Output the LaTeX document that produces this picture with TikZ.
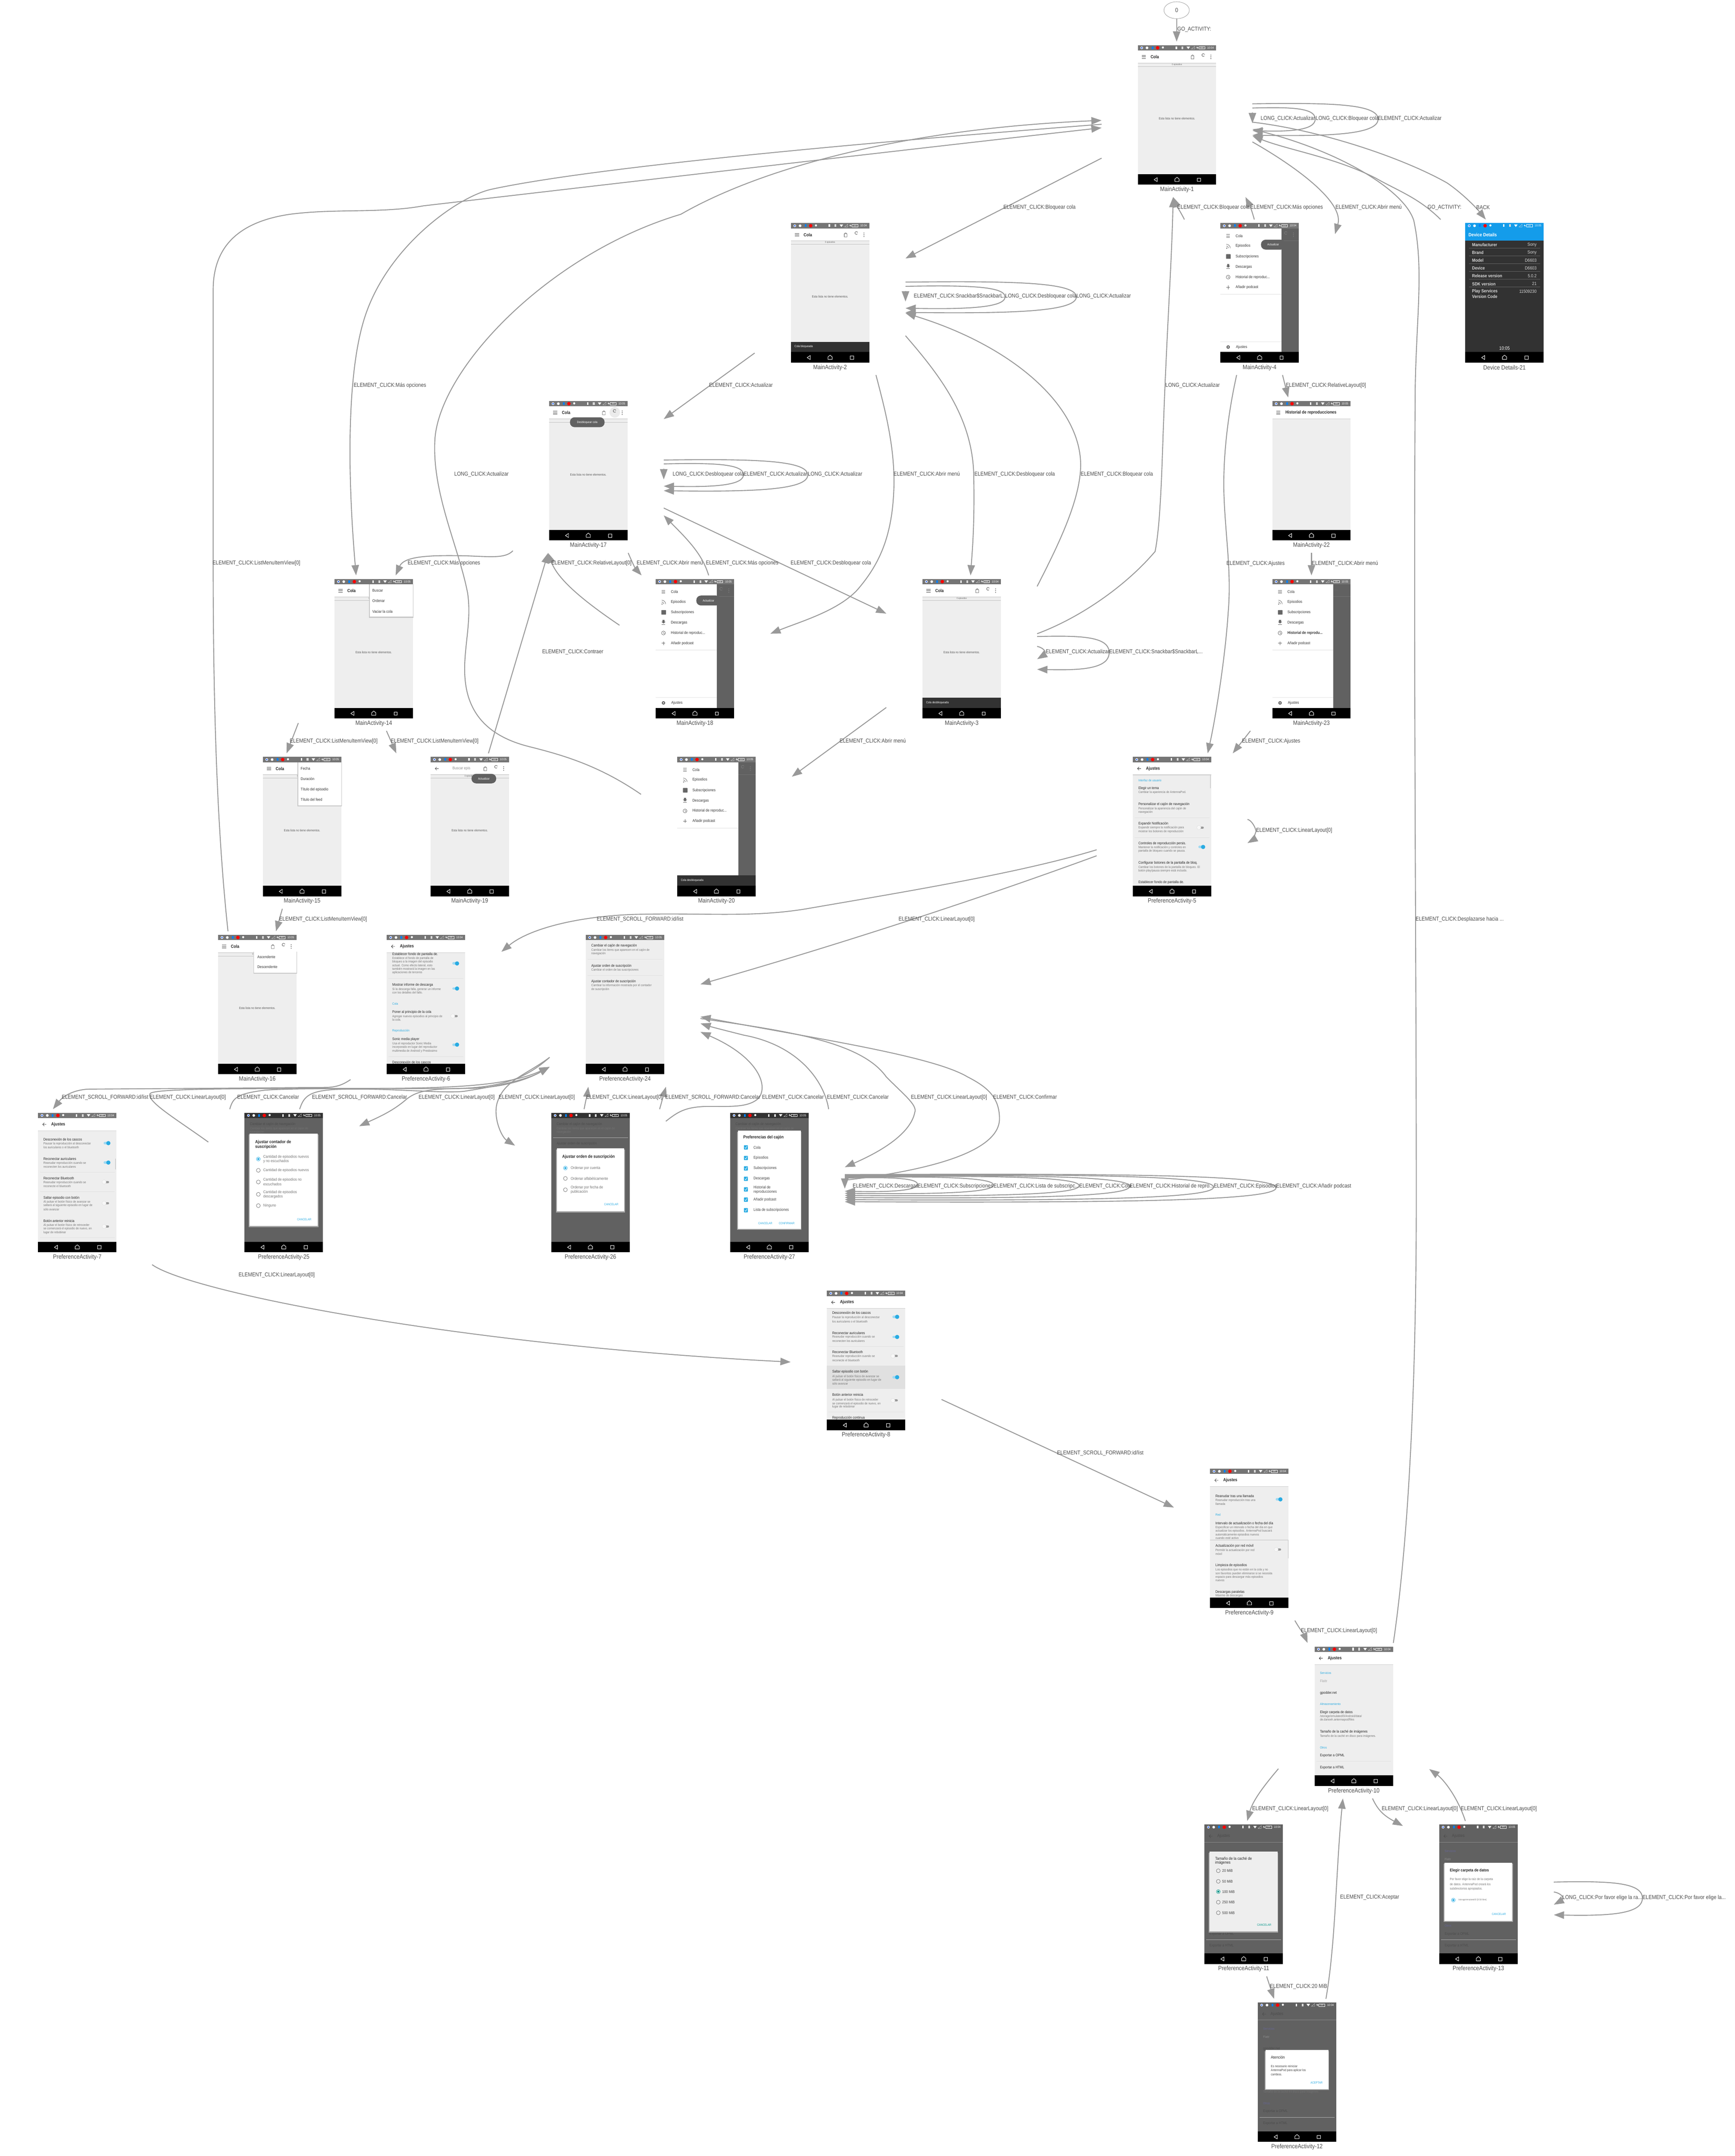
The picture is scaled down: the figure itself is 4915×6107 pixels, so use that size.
\documentclass[tikz,border=0pt]{standalone}
\usepackage{fontspec}
\setmainfont{Liberation Sans}[FakeStretch=0.875]
\usetikzlibrary{arrows.meta,shapes.geometric}

\definecolor{edgegray}{HTML}{999999}
\definecolor{labelgray}{HTML}{4D4D4D}
\definecolor{bodygray}{HTML}{EEEEEE}
\definecolor{dimgray}{HTML}{616161}
\definecolor{statgray}{HTML}{757575}
\definecolor{cyanblue}{HTML}{29ABE2}
\definecolor{tealbtn}{HTML}{009688}
\definecolor{darkbar}{HTML}{323232}
\definecolor{skyblue}{HTML}{149CEA}

\tikzset{
    screenbox/.style={rectangle, inner sep=0pt, minimum width=427pt, minimum height=440pt},
    captionlabel/.style={font=\fontsize{17.5}{20}\selectfont, text=labelgray, inner sep=0pt},
    edgelabel/.style={font=\fontsize{16}{18}\selectfont, text=labelgray, anchor=west, inner sep=0pt},
    arrowline/.style={draw=edgegray, line width=2.6pt, -{Triangle[length=29pt,width=21pt]}},
    ptitle/.style={font=\fontsize{10.3}{12}\selectfont, text=black!85, anchor=west, inner sep=0pt},
    psub/.style={font=\fontsize{9}{11}\selectfont, text=statgray, anchor=west, inner sep=0pt},
    psec/.style={font=\fontsize{9}{11}\selectfont, text=cyanblue, anchor=west, inner sep=0pt},
    dimtitle/.style={font=\fontsize{10.3}{12}\selectfont, text=black!70, anchor=west, inner sep=0pt},
    dimsub/.style={font=\fontsize{9}{11}\selectfont, text=black!55, anchor=west, inner sep=0pt},
    apptitle/.style={font=\bfseries\fontsize{12.5}{14}\selectfont, text=black!85, anchor=west, inner sep=0pt},
    drawertext/.style={font=\fontsize{11}{13}\selectfont, text=black!80, anchor=west, inner sep=0pt},
    emptytext/.style={font=\fontsize{9}{11}\selectfont, text=black!65, inner sep=0pt},
    tinytext/.style={font=\fontsize{6.5}{8}\selectfont, text=black!60, inner sep=0pt},
    whitesmall/.style={font=\fontsize{8.5}{10}\selectfont, text=white, inner sep=0pt},
    dialogtitle/.style={font=\bfseries\fontsize{12.3}{14}\selectfont, text=black!85, anchor=west, inner sep=0pt},
    optiontext/.style={font=\fontsize{11}{13}\selectfont, text=black!55, anchor=west, inner sep=0pt},
    buttontext/.style={font=\fontsize{8.4}{10}\selectfont, text=cyanblue, inner sep=0pt},
    rowname/.style={font=\bfseries\fontsize{12.8}{14}\selectfont, text=white!85!black, anchor=west, inner sep=0pt},
    rowvalue/.style={font=\fontsize{12.8}{14}\selectfont, text=white!85!black, anchor=east, inner sep=0pt},
}

% node for the screen plus its caption below
\newcommand{\screen}[4]{
    \node[screenbox] (#1) at ({#2+111},{#3+210}) {};
    \node[captionlabel] (#1c) at ({#2+111},{#3+409}) {#4};
}
\newcommand{\statusbar}[2]{
    \fill[#1] (0,0) rectangle (222,15);
    \fill[white] (11,7.5) circle (3.8);
    \fill[blue!70!cyan] (11,7.5) circle (2.2);
    \fill[white] (26,7.5) circle (3.8);
    \fill[blue!50!cyan] (39,3.5) rectangle (44,11);
    \fill[red] (56,7.5) circle (5);
    \fill[white] (71,6.5) circle (3);
    \fill[white] (107,3.5) rectangle (111,11);
    \fill[white!70!gray] (124,3.5) rectangle (129,11);
    \fill[white] (138,4) -- (148,4) -- (143,11) -- cycle;
    \draw[white!70!gray, line width=0.6pt] (152,11) -- (161,3) -- (161,11) -- cycle;
    \fill[white] (168,3.5) -- (166,8) -- (170,8) -- (168,11.5) -- (172,6.5) -- (169,6.5) -- cycle;
    \draw[white, line width=0.8pt] (173,4) rectangle (190,11);
    \node[font=\fontsize{5.5}{6}\selectfont, text=white, inner sep=0pt] at (181.5,7.5) {100};
    \node[font=\fontsize{8.5}{10}\selectfont, text=white, inner sep=0pt] at (206,7.5) {#2};
}
\newcommand{\navbar}{
    \fill[black] (0,365) rectangle (222,395);
    \draw[white, line width=1.2pt, line join=round] (55,375) -- (46,381) -- (55,386.5) -- cycle;
    \draw[white, line width=1.2pt, line join=round] (105,386) -- (105,379) -- (111,374) -- (117,379) -- (117,386) -- cycle;
    \draw[white, line width=1.2pt] (168.5,376.5) rectangle (178,386);
}
\newcommand{\backarrow}[1]{
    \draw[#1, line width=1pt] (23,33) -- (13,33) (17.5,28.5) -- (13,33) -- (17.5,37.5);
}
\newcommand{\hamburger}[1]{
    \draw[#1, line width=1pt] (11,29) -- (23,29) (11,33) -- (23,33) (11,37) -- (23,37);
}
\newcommand{\rightdots}[1]{
    \fill[#1] (207,28) circle (1.3) (207,33) circle (1.3) (207,38) circle (1.3);
    \draw[#1, line width=1pt] (188.5,30.5) arc (40:340:4);
}
% the toolbar and the empty list of the queue
\newcommand{\queuepage}{
    \fill[bodygray] (0,15) rectangle (222,365);
    \fill[white] (0,15) rectangle (222,50);
    \hamburger{black!70}
    \node[apptitle] at (36,33) {Cola};
    \draw[black!70, line width=0.8pt] (151,30) rectangle (159,39) (152.5,30) arc (180:360:2.5);
    \rightdots{black!70}
    \draw[black!25, line width=1pt] (0,50.5) -- (222,50.5);
    \draw[black!25, line width=0.6pt] (0,60) -- (222,60);
    \node[tinytext] at (111,55) {0 episodios};
    \node[emptytext] at (111,208) {Esta lista no tiene elementos.};
}
\newcommand{\whiteappbar}[1]{
    \fill[bodygray] (0,15) rectangle (222,365);
    \fill[white] (0,15) rectangle (222,50);
    \fill[black!20] (0,50) rectangle (222,51.5);
    \backarrow{black!80}
    \node[apptitle] at (37,33) {#1};
}
\newcommand{\snackbar}[1]{
    \fill[darkbar] (0,336) rectangle (222,365);
    \node[whitesmall, anchor=west] at (10,350) {#1};
}
\newcommand{\toast}[5]{
    \fill[dimgray, rounded corners=13pt] (#1,#3) rectangle (#2,#4);
    \node[whitesmall] at ({(#1+#2)/2},{(#3+#4)/2}) {#5};
}
\newcommand{\popup}[3]{
    \fill[black!22] (#1-2,#2) rectangle (223,#3+3);
    \fill[white] (#1,#2) rectangle (222,#3);
}
\newcommand{\togon}[1]{
    \draw[cyanblue!45, line width=7pt, line cap=round] (189,#1) -- (198,#1);
    \fill[cyanblue] (199,#1) circle (6);
}
\newcommand{\togoff}[1]{
    \draw[black!40, line width=6pt, line cap=round] (190,#1) -- (198,#1);
    \fill[white!97!black] (187,#1) circle (6);
    \draw[black!15, line width=0.5pt] (187,#1) circle (6);
}
% the navigation drawer, its items at y 36 to 182
\newcommand{\drawerpage}[1]{
    \fill[dimgray] (0,15) rectangle (222,365);
    \draw[black!55, line width=1pt] (173,50) -- (222,50);
    \fill[white] (0,15) rectangle (173,365);
    \draw[black!60, line width=0.8pt] (17,32) -- (27,32) (17,36) -- (27,36) (17,40) -- (27,40);
    \fill[black!60] (18,71) circle (1.7);
    \draw[black!60, line width=1pt] (17,65) arc (-90:0:6) (17,60) arc (-90:0:11);
    \fill[black!60, rounded corners=1pt] (16,88) rectangle (29,101);
    \fill[black!60] (19,116) -- (25,116) -- (25,121) -- (28,121) -- (22,126) -- (16,121) -- (19,121) -- cycle;
    \fill[black!60] (17,128) rectangle (27,129.5);
    \draw[black!60, line width=1pt] (22,153) circle (5.5);
    \draw[black!60, line width=1pt] (22,150) -- (22,153) -- (25,155);
    \draw[black!60, line width=1pt] (17,182) -- (27,182) (22,177) -- (22,187);
    \node[drawertext] at (43,36) {Cola};
    \node[drawertext] at (43,65) {Episodios};
    \node[drawertext] at (43,94.5) {Subscripciones};
    \node[drawertext] at (43,124) {Descargas};
    \node[drawertext] at (43,153) {#1};
    \node[drawertext] at (43,182) {Añadir podcast};
    \draw[black!12, line width=1pt] (0,201) -- (173,201);
}
\newcommand{\drawerfoot}{
    \draw[black!10, line width=1pt] (0,336) -- (173,336);
    \fill[black!60] (22,351) circle (5);
    \fill[white] (22,351) circle (2);
    \node[drawertext] at (44,351) {Ajustes};
}
\newcommand{\radiobtn}[3]{
    \draw[#3, line width=0.9pt] (#1,#2) circle (5.5);
}
\newcommand{\radioon}[3]{
    \draw[#3, line width=0.9pt] (#1,#2) circle (5.5);
    \fill[#3] (#1,#2) circle (3);
}
\newcommand{\checkbox}[1]{
    \fill[cyanblue, rounded corners=1pt] (39,#1-6) rectangle (50,#1+6);
    \draw[white, line width=1pt] (41.5,#1) -- (44,#1+3) -- (48,#1-4);
}
\newcommand{\selfedge}[4]{
    \pgfmathsetmacro{\ymid}{(#2+#4)/2}
    \draw[arrowline] (#1.east |- 0,#2) .. controls +({.6*#3},-3) and +(0,{#2-\ymid}) .. ++(#3,{\ymid-#2-1}) .. controls +(0,{#4-\ymid}) and +({.6*#3},3) .. ++({-#3},{#4-\ymid+1});
}
\newcommand{\smallloop}[4]{
    \pgfmathsetmacro{\ymid}{(#2+#4)/2}
    \draw[arrowline] (#1.east |- 0,#2) .. controls +({.5*#3},2) and +(0,-8) .. ++(#3,{\ymid-#2}) .. controls +(0,5) and +({.5*#3},-7) .. ++({-#3},{#4-\ymid});
}
\newcommand{\ec}{ELEMENT\_CLICK:}
\newcommand{\lc}{LONG\_CLICK:}
\newcommand{\es}{ELEMENT\_SCROLL\_FORWARD:}

\begin{document}
\begin{tikzpicture}[x=1pt,y=-1pt]
    \useasboundingbox (0,0) rectangle (4915,6107);
    \fill[white] (0,0) rectangle (4915,6107);

    \node[ellipse, draw=edgegray, line width=1pt, minimum width=72pt, minimum height=48pt, inner sep=0pt, font=\fontsize{17}{20}\selectfont, text=labelgray] (s0) at (3334,29) {0};

    % screens
    \screen{m1}{3224}{128}{MainActivity-1}
    \begin{scope}[shift={(3224,128)}]
        \queuepage \statusbar{statgray}{10:04} \navbar
    \end{scope}

    \screen{m2}{2241}{632}{MainActivity-2}
    \begin{scope}[shift={(2241,632)}]
        \queuepage \snackbar{Cola bloqueada} \statusbar{statgray}{10:04} \navbar
    \end{scope}

    \screen{m4}{3458}{632}{MainActivity-4}
    \begin{scope}[shift={(3458,632)}]
        \drawerpage{Historial de reproduc...}
        \drawerfoot
        \rightdots{black!50}
        \toast{115}{184}{47}{75}{Actualizar}
        \statusbar{statgray}{10:04} \navbar
    \end{scope}

    \screen{dd21}{4152}{632}{Device Details-21}
    \begin{scope}[shift={(4152,632)}]
        \fill[darkbar] (0,15) rectangle (222,365);
        \fill[skyblue] (0,15) rectangle (222,50);
        \node[font=\bfseries\fontsize{13.5}{15}\selectfont, text=white, anchor=west, inner sep=0pt] at (9,33) {Device Details};
        \draw[black!60, line width=0.6pt] (10,71) -- (212,71) (10,93) -- (212,93) (10,115) -- (212,115) (10,137) -- (212,137) (10,159) -- (212,159) (10,181) -- (212,181);
        \node[rowname] at (19,62) {Manufacturer};
        \node[rowvalue] at (202,62) {Sony};
        \node[rowname] at (19,84) {Brand};
        \node[rowvalue] at (202,84) {Sony};
        \node[rowname] at (19,106) {Model};
        \node[rowvalue] at (202,106) {D6603};
        \node[rowname] at (19,128) {Device};
        \node[rowvalue] at (202,128) {D6603};
        \node[rowname] at (19,150) {Release version};
        \node[rowvalue] at (202,150) {5.0.2};
        \node[rowname] at (19,172) {SDK version};
        \node[rowvalue] at (202,172) {21};
        \node[rowname] at (19,194) {Play Services};
        \node[rowvalue] at (202,194) {11509230};
        \node[rowname] at (19,208) {Version Code};
        \node[font=\fontsize{13.5}{15}\selectfont, text=white, inner sep=0pt] at (111,355) {10:05};
        \statusbar{skyblue}{10:05} \navbar
    \end{scope}

    \screen{m17}{1556}{1136}{MainActivity-17}
    \begin{scope}[shift={(1556,1136)}]
        \queuepage
        \fill[black!8] (186,32) circle (15);
        \draw[black!70, line width=1pt] (188.5,30.5) arc (40:340:4);
        \toast{59}{157}{46}{74}{Desbloquear cola}
        \statusbar{statgray}{10:05} \navbar
    \end{scope}

    \screen{m22}{3605}{1136}{MainActivity-22}
    \begin{scope}[shift={(3605,1136)}]
        \fill[bodygray] (0,15) rectangle (222,365);
        \fill[white] (0,15) rectangle (222,50);
        \fill[black!20] (0,50) rectangle (222,51.5);
        \hamburger{black!70}
        \node[apptitle] at (37,33) {Historial de reproducciones};
        \statusbar{statgray}{10:05} \navbar
    \end{scope}

    \screen{m14}{948}{1640}{MainActivity-14}
    \begin{scope}[shift={(948,1640)}]
        \queuepage
        \popup{100}{15}{107}
        \node[drawertext] at (107,33) {Buscar};
        \node[drawertext] at (107,62) {Ordenar};
        \node[drawertext] at (107,92) {Vaciar la cola};
        \statusbar{statgray}{10:05} \navbar
    \end{scope}

    \screen{m18}{1858}{1640}{MainActivity-18}
    \begin{scope}[shift={(1858,1640)}]
        \drawerpage{Historial de reproduc...}
        \drawerfoot
        \rightdots{black!50}
        \toast{115}{184}{47}{75}{Actualizar}
        \statusbar{statgray}{10:05} \navbar
    \end{scope}

    \screen{m3}{2614}{1640}{MainActivity-3}
    \begin{scope}[shift={(2614,1640)}]
        \queuepage \snackbar{Cola desbloqueada} \statusbar{statgray}{10:04} \navbar
    \end{scope}

    \screen{m23}{3605}{1640}{MainActivity-23}
    \begin{scope}[shift={(3605,1640)}]
        \drawerpage{\textbf{Historial de reprodu...}}
        \drawerfoot
        \node[font=\bfseries\fontsize{10}{12}\selectfont, text=black!60, anchor=west, inner sep=0pt] at (176,33) {es};
        \statusbar{statgray}{10:05} \navbar
    \end{scope}

    \screen{m15}{745}{2144}{MainActivity-15}
    \begin{scope}[shift={(745,2144)}]
        \queuepage
        \popup{100}{15}{137}
        \node[drawertext] at (107,33) {Fecha};
        \node[drawertext] at (107,62) {Duración};
        \node[drawertext] at (107,92) {Título del episodio};
        \node[drawertext] at (107,121) {Título del feed};
        \statusbar{statgray}{10:05} \navbar
    \end{scope}

    \screen{m19}{1220}{2144}{MainActivity-19}
    \begin{scope}[shift={(1220,2144)}]
        \queuepage
        \fill[white] (0,15) rectangle (140,49);
        \backarrow{black!70}
        \node[drawertext, text=black!45] at (62,33) {Buscar epis};
        \toast{116}{186}{48}{75}{Actualizar}
        \statusbar{statgray}{10:05} \navbar
    \end{scope}

    \screen{m20}{1919}{2144}{MainActivity-20}
    \begin{scope}[shift={(1919,2144)}]
        \drawerpage{Historial de reproduc...}
        \rightdots{black!50}
        \snackbar{Cola desbloqueada}
        \statusbar{statgray}{10:05} \navbar
    \end{scope}

    \screen{p5}{3210}{2144}{PreferenceActivity-5}
    \begin{scope}[shift={(3210,2144)}]
        \whiteappbar{Ajustes}
        \fill[black!18] (218,52) rectangle (221,89);
        \node[psec] at (15.5,66) {Interfaz de usuario};
        \node[ptitle] at (15.5,89) {Elegir un tema};
        \node[psub] at (15.5,101) {Cambiar la apariencia de AntennaPod.};
        \node[ptitle] at (15.5,134) {Personalizar el cajón de navegación};
        \node[psub] at (15.5,147) {Personalizar la apariencia del cajón de};
        \node[psub] at (15.5,157) {navegación};
        \draw[black!12, line width=0.8pt] (5,172) -- (217,172);
        \node[ptitle] at (15.5,189) {Expandir Notificación};
        \node[psub] at (15.5,201) {Expandir siempre la notificación para};
        \node[psub] at (15.5,211) {mostrar los botones de reproducción};
        \togoff{200}
        \draw[black!12, line width=0.8pt] (5,228) -- (217,228);
        \node[ptitle] at (15.5,245) {Controles de reproducción persis.};
        \node[psub] at (15.5,257) {Mantener la notificación y controles en};
        \node[psub] at (15.5,267) {pantalla de bloqueo cuando se pausa.};
        \togon{255}
        \node[ptitle] at (15.5,300) {Configurar botones de la pantalla de bloq.};
        \node[psub] at (15.5,313) {Cambiar los botones de la pantalla de bloqueo. El};
        \node[psub] at (15.5,323) {botón play/pausa siempre está incluido.};
        \node[ptitle] at (15.5,355) {Establecer fondo de pantalla de.};
        \statusbar{statgray}{10:04} \navbar
    \end{scope}

    \screen{m16}{618}{2648}{MainActivity-16}
    \begin{scope}[shift={(618,2648)}]
        \queuepage
        \popup{102}{47}{107}
        \node[drawertext] at (111,62) {Ascendente};
        \node[drawertext] at (111,91) {Descendente};
        \statusbar{statgray}{10:05} \navbar
    \end{scope}

    \screen{p6}{1096}{2648}{PreferenceActivity-6}
    \begin{scope}[shift={(1096,2648)}]
        \whiteappbar{Ajustes}
        \node[ptitle] at (15.5,55) {Establecer fondo de pantalla de.};
        \node[psub] at (15.5,67) {Establece el fondo de pantalla de};
        \node[psub] at (15.5,77) {bloqueo a la imagen del episodio};
        \node[psub] at (15.5,87) {actual. Como efecto lateral, esto}; 
        \node[psub] at (15.5,97) {también mostrará la imagen en las};
        \node[psub] at (15.5,107) {aplicaciones de terceros};
        \togon{81}
        \draw[black!12, line width=0.8pt] (5,124) -- (217,124);
        \node[ptitle] at (15.5,142) {Mostrar informe de descarga};
        \node[psub] at (15.5,154) {Si la descarga falla, generar un informe};
        \node[psub] at (15.5,164) {con los detalles del fallo.};
        \togon{152}
        \node[psec] at (15.5,195) {Cola};
        \node[ptitle] at (15.5,219) {Poner al principio de la cola};
        \node[psub] at (15.5,231) {Agregar nuevos episodios al principio de};
        \node[psub] at (15.5,241) {la cola.};
        \togoff{230}
        \node[psec] at (15.5,272) {Reproducción};
        \node[ptitle] at (15.5,296) {Sonic media player};
        \node[psub] at (15.5,308) {Usa el reproductor Sonic Media};
        \node[psub] at (15.5,318) {incorporado en lugar del reproductor};
        \node[psub] at (15.5,329) {multimedia de Android y Prestissimo};
        \togon{311}
        \draw[black!12, line width=0.8pt] (5,345) -- (217,345);
        \node[ptitle] at (15.5,361) {Desconexión de los cascos};
        \statusbar{statgray}{10:04} \navbar
    \end{scope}

    \screen{p24}{1660}{2648}{PreferenceActivity-24}
    \begin{scope}[shift={(1660,2648)}]
        \fill[bodygray] (0,15) rectangle (222,365);
        \node[ptitle] at (15.5,31) {Cambiar el cajón de navegación};
        \node[psub] at (15.5,43) {Cambiar los ítems que aparecen en el cajón de};
        \node[psub] at (15.5,53) {navegación};
        \draw[black!12, line width=0.8pt] (5,69) -- (217,69);
        \node[ptitle] at (15.5,88) {Ajustar orden de suscripción};
        \node[psub] at (15.5,100) {Cambiar el orden de las suscripciones};
        \draw[black!12, line width=0.8pt] (5,115) -- (217,115);
        \node[ptitle] at (15.5,132) {Ajustar contador de suscripción};
        \node[psub] at (15.5,144) {Cambiar la información mostrada por el contador};
        \node[psub] at (15.5,154) {de suscripción};
        \statusbar{statgray}{10:05} \navbar
    \end{scope}

    \screen{p7}{108}{3152}{PreferenceActivity-7}
    \begin{scope}[shift={(108,3152)}]
        \whiteappbar{Ajustes}
        \fill[black!18] (217.5,130) rectangle (220,161);
        \node[ptitle] at (15,75) {Desconexión de los cascos};
        \node[psub] at (15,87.5) {Pausar la reproducción al desconectar};
        \node[psub] at (15,98) {los auriculares o el bluetooth};
        \togon{86}
        \node[ptitle] at (15,130) {Reconectar auriculares};
        \node[psub] at (15,143) {Reanudar reproducción cuando se};
        \node[psub] at (15,153) {reconecten los auriculares};
        \togon{141}
        \draw[black!12, line width=0.8pt] (5,168) -- (217,168);
        \node[ptitle] at (15,186) {Reconectar Bluetooth};
        \node[psub] at (15,198) {Reanudar reproducción cuando se};
        \node[psub] at (15,208) {reconecte el bluetooth};
        \togoff{196}
        \draw[black!12, line width=0.8pt] (5,223) -- (217,223);
        \node[ptitle] at (15,241) {Saltar episodio con botón};
        \node[psub] at (15,253) {Al pulsar el botón físico de avanzar se};
        \node[psub] at (15,263) {saltará al siguiente episodio en lugar de};
        \node[psub] at (15,274) {sólo avanzar};
        \togoff{256}
        \node[ptitle] at (15,306) {Botón anterior reinicia};
        \node[psub] at (15,319) {Al pulsar el botón físico de retroceder};
        \node[psub] at (15,329) {se comenzará el episodio de nuevo, en};
        \node[psub] at (15,339) {lugar de rebobinar};
        \togoff{322}
        \draw[black!12, line width=0.8pt] (5,354) -- (217,354);
        \statusbar{statgray}{10:04} \navbar
    \end{scope}

    \screen{p25}{693}{3152}{PreferenceActivity-25}
    \begin{scope}[shift={(693,3152)}]
        \fill[dimgray] (0,15) rectangle (222,365);
        \node[dimtitle] at (15,32) {Cambiar el cajón de navegación};
        \node[dimsub] at (15,45) {Cambiar los ítems que aparecen en el cajón de};
        \node[dimsub] at (15,55) {navegación};
        \fill[black!35] (12,62) rectangle (209,324);
        \fill[white] (14,59) rectangle (207,321);
        \node[dialogtitle] at (30,83) {Ajustar contador de};
        \node[dialogtitle] at (30,97) {suscripción};
        \radioon{39}{131}{cyanblue}
        \node[optiontext] at (53,125.5) {Cantidad de episodios nuevos};
        \node[optiontext] at (53,137) {y no escuchados};
        \radiobtn{39}{163}{black!60}
        \node[optiontext] at (53,163) {Cantidad de episodios nuevos};
        \radiobtn{39}{196}{black!60}
        \node[optiontext] at (53,190) {Cantidad de episodios no};
        \node[optiontext] at (53,202) {escuchados};
        \radiobtn{39}{231}{black!60}
        \node[optiontext] at (53,225) {Cantidad de episodios};
        \node[optiontext] at (53,237) {descargados};
        \radiobtn{39}{263}{black!60}
        \node[optiontext] at (53,263) {Ninguno};
        \node[buttontext] at (169,302) {CANCELAR};
        \statusbar{darkbar}{10:05} \navbar
    \end{scope}

    \screen{p26}{1562}{3152}{PreferenceActivity-26}
    \begin{scope}[shift={(1562,3152)}]
        \fill[dimgray] (0,15) rectangle (222,365);
        \node[dimtitle] at (15,32) {Cambiar el cajón de navegación};
        \node[dimsub] at (15,45) {Cambiar los ítems que aparecen en el cajón de};
        \node[dimsub] at (15,55) {navegación};
        \draw[black!30, line width=0.8pt] (5,70) -- (217,70);
        \node[dimtitle] at (15,88) {Ajustar orden de suscripción};
        \fill[black!35] (14,104) rectangle (209,282);
        \fill[white] (16,101) rectangle (207,279);
        \node[dialogtitle] at (31,125) {Ajustar orden de suscripción};
        \radioon{40}{156.5}{cyanblue}
        \node[optiontext] at (55,156.5) {Ordenar por cuenta};
        \radiobtn{40}{186}{black!60}
        \node[optiontext] at (55,186) {Ordenar alfabéticamente};
        \radiobtn{40}{218}{black!60}
        \node[optiontext] at (55,212) {Ordenar por fecha de};
        \node[optiontext] at (55,224) {publicación};
        \node[buttontext] at (170,260) {CANCELAR};
        \statusbar{darkbar}{10:05} \navbar
    \end{scope}

    \screen{p27}{2069}{3152}{PreferenceActivity-27}
    \begin{scope}[shift={(2069,3152)}]
        \fill[dimgray] (0,15) rectangle (222,365);
        \node[dimtitle] at (15,32) {Cambiar el cajón de navegación};
        \node[dimsub] at (15,45) {Cambiar los ítems que aparecen en el cajón de};
        \fill[black!35] (20,54) rectangle (202,332);
        \fill[white] (22,51) rectangle (200,329.5);
        \node[dialogtitle] at (37,70) {Preferencias del cajón};
        \checkbox{98}
        \node[optiontext, text=black!75] at (66,98) {Cola};
        \checkbox{128}
        \node[optiontext, text=black!75] at (66,128) {Episodios};
        \checkbox{157.5}
        \node[optiontext, text=black!75] at (66,157.5) {Subscripciones};
        \checkbox{187}
        \node[optiontext, text=black!75] at (66,187) {Descargas};
        \checkbox{217}
        \node[optiontext, text=black!75] at (66,211) {Historial de};
        \node[optiontext, text=black!75] at (66,224) {reproducciones};
        \checkbox{246}
        \node[optiontext, text=black!75] at (66,246) {Añadir podcast};
        \checkbox{276}
        \node[optiontext, text=black!75] at (66,276) {Lista de subscripciones};
        \node[buttontext] at (99.5,313) {CANCELAR};
        \node[buttontext] at (160,313) {CONFIRMAR};
        \statusbar{darkbar}{10:05} \navbar
    \end{scope}

    \screen{p8}{2343}{3656}{PreferenceActivity-8}
    \begin{scope}[shift={(2343,3656)}]
        \whiteappbar{Ajustes}
        \node[ptitle] at (15,63) {Desconexión de los cascos};
        \node[psub] at (15,76) {Pausar la reproducción al desconectar};
        \node[psub] at (15,87) {los auriculares o el bluetooth};
        \togon{74}
        \node[ptitle] at (15,120) {Reconectar auriculares};
        \node[psub] at (15,131) {Reanudar reproducción cuando se};
        \node[psub] at (15,142) {reconecten los auriculares};
        \togon{131}
        \draw[black!12, line width=0.8pt] (5,157) -- (217,157);
        \node[ptitle] at (15,174) {Reconectar Bluetooth};
        \node[psub] at (15,186) {Reanudar reproducción cuando se};
        \node[psub] at (15,197) {reconecte el bluetooth};
        \togoff{185}
        \fill[black!12] (0,212) rectangle (222,278);
        \node[ptitle] at (15,229) {Saltar episodio con botón};
        \node[psub] at (15,243) {Al pulsar el botón físico de avanzar se};
        \node[psub] at (15,253) {saltará al siguiente episodio en lugar de};
        \node[psub] at (15,263) {sólo avanzar};
        \togon{245}
        \node[ptitle] at (15,295) {Botón anterior reinicia};
        \node[psub] at (15,309) {Al pulsar el botón físico de retroceder};
        \node[psub] at (15,320) {se comenzará el episodio de nuevo, en};
        \node[psub] at (15,329) {lugar de rebobinar};
        \togoff{311}
        \draw[black!12, line width=0.8pt] (5,343) -- (217,343);
        \node[ptitle] at (15,360) {Reproducción continua};
        \statusbar{statgray}{10:04} \navbar
    \end{scope}

    \screen{p9}{3429}{4160}{PreferenceActivity-9}
    \begin{scope}[shift={(3429,4160)}]
        \whiteappbar{Ajustes}
        \node[ptitle] at (15,77) {Reanudar tras una llamada};
        \node[psub] at (15,90) {Reanudar reproducción tras una};
        \node[psub] at (15,100) {llamada};
        \togon{87}
        \node[psec] at (15,130) {Red};
        \node[ptitle] at (15,154) {Intervalo de actualización o fecha del día};
        \node[psub] at (15,167) {Especificar un intervalo o fecha del día en que};
        \node[psub] at (15,177) {actualizar los episodios. AntennaPod buscará};
        \node[psub] at (15,187) {automáticamente episodios nuevos};
        \node[psub] at (15,197) {cuando esté activo};
        \draw[black!25, line width=0.8pt] (0,202) -- (221,202) -- (221,254);
        \node[ptitle] at (15,219) {Actualización por red móvil};
        \node[psub] at (15,232) {Permitir la actualización por red};
        \node[psub] at (15,242) {móvil};
        \togoff{229}
        \node[ptitle] at (15,274) {Limpieza de episodios};
        \node[psub] at (15,287) {Los episodios que no están en la cola y no};
        \node[psub] at (15,297) {son favoritos pueden eliminarse si se necesita};
        \node[psub] at (15,307) {espacio para descargar más episodios};
        \node[psub] at (15,317) {nuevos};
        \node[ptitle] at (15,350) {Descargas paralelas};
        \node[psub] at (15,360) {Máximo de descargas};
        \statusbar{statgray}{10:04} \navbar
    \end{scope}

    \screen{p10}{3725}{4664}{PreferenceActivity-10}
    \begin{scope}[shift={(3725,4664)}]
        \whiteappbar{Ajustes}
        \node[psec] at (15,75) {Servicios};
        \node[ptitle, text=black!35] at (15,98) {Flattr};
        \node[ptitle] at (15,131) {gpodder.net};
        \node[psec] at (15,163) {Almacenamiento};
        \node[ptitle] at (15,186) {Elegir carpeta de datos};
        \node[psub] at (15,198) {/storage/emulated/0/Android/data/};
        \node[psub] at (15,208) {de.danoeh.antennapod/files};
        \node[ptitle] at (15,242) {Tamaño de la caché de imágenes};
        \node[psub] at (15,254) {Tamaño de la caché en disco para imágenes.};
        \node[psec] at (15,286) {Otros};
        \node[ptitle] at (15,309) {Exportar a OPML};
        \draw[black!12, line width=0.8pt] (5,325) -- (217,325);
        \node[ptitle] at (15,343) {Exportar a HTML};
        \statusbar{statgray}{10:04} \navbar
    \end{scope}

    \screen{p11}{3413}{5168}{PreferenceActivity-11}
    \begin{scope}[shift={(3413,5168)}]
        \fill[dimgray] (0,15) rectangle (222,365);
        \draw[black!45, line width=1pt] (0,50) -- (222,50);
        \backarrow{black!70}
        \node[apptitle, font=\fontsize{12.5}{14}\selectfont, text=black!70] at (36,33) {Ajustes};
        \node[dimtitle] at (14,310) {Exportar a OPML};
        \draw[black!30, line width=0.8pt] (5,326) -- (217,326);
        \node[dimtitle] at (14,343) {Exportar a HTML};
        \fill[black!35] (12,80) rectangle (209,306);
        \fill[bodygray] (14,77) rectangle (207,303);
        \node[ptitle, font=\fontsize{11.5}{13}\selectfont] at (30,96.5) {Tamaño de la caché de};
        \node[ptitle, font=\fontsize{11.5}{13}\selectfont] at (30,109) {imágenes};
        \radiobtn{39}{131}{black!60}
        \node[optiontext, text=black!75] at (50,131) {20 MiB};
        \radiobtn{39}{161}{black!60}
        \node[optiontext, text=black!75] at (50,161) {50 MiB};
        \radioon{39}{190}{tealbtn}
        \node[optiontext, text=black!75] at (50,190) {100 MiB};
        \radiobtn{39}{220}{black!60}
        \node[optiontext, text=black!75] at (50,220) {250 MiB};
        \radiobtn{39}{250}{black!60}
        \node[optiontext, text=black!75] at (50,250) {500 MiB};
        \node[buttontext, text=tealbtn] at (169,285) {CANCELAR};
        \statusbar{dimgray}{10:04} \navbar
    \end{scope}

    \screen{p13}{4078}{5168}{PreferenceActivity-13}
    \begin{scope}[shift={(4078,5168)}]
        \fill[dimgray] (0,15) rectangle (222,365);
        \draw[black!45, line width=1pt] (0,50) -- (222,50);
        \backarrow{black!70}
        \node[apptitle, font=\fontsize{12.5}{14}\selectfont, text=black!70] at (36,33) {Ajustes};
        \node[psec, text=blue!30!black!60] at (15,75) {Servicios};
        \node[dimsub, text=black!45] at (15,98) {Flattr};
        \node[psec, text=blue!30!black!60] at (15,287) {Otros};
        \node[dimtitle] at (15,310) {Exportar a OPML};
        \draw[black!30, line width=0.8pt] (5,326) -- (217,326);
        \node[dimtitle] at (15,343) {Exportar a HTML};
        \fill[black!35] (13,111) rectangle (209,276);
        \fill[white] (15,108) rectangle (207,273);
        \node[ptitle, font=\bfseries\fontsize{11.5}{13}\selectfont] at (30,131) {Elegir carpeta de datos};
        \node[psub] at (30,155) {Por favor elige la raíz de la carpeta};
        \node[psub] at (30,169) {de datos. AntennaPod creará los};
        \node[psub] at (30,183) {subdirectorios apropiados.};
        \radioon{40}{214}{cyanblue}
        \node[psub, font=\fontsize{6.5}{8}\selectfont] at (54,214) {/storage/emulated/0/ [9.58 libre]};
        \node[buttontext] at (169,254) {CANCELAR};
        \statusbar{dimgray}{10:05} \navbar
    \end{scope}

    \screen{p12}{3564}{5672}{PreferenceActivity-12}
    \begin{scope}[shift={(3564,5672)}]
        \fill[dimgray] (0,15) rectangle (222,365);
        \draw[black!45, line width=1pt] (0,50) -- (222,50);
        \backarrow{black!70}
        \node[apptitle, font=\fontsize{12.5}{14}\selectfont, text=black!70] at (36,33) {Ajustes};
        \node[psec, text=blue!30!black!60] at (15,75) {Servicios};
        \node[dimsub, text=black!45] at (15,98) {Flattr};
        \node[dimtitle] at (15,131) {gpodder.net};
        \node[dimsub] at (15,254) {Tamaño de la caché en disco para imágenes.};
        \node[psec, text=blue!30!black!60] at (15,286) {Otros};
        \node[dimtitle] at (15,309) {Exportar a OPML};
        \draw[black!30, line width=0.8pt] (5,325) -- (217,325);
        \node[dimtitle] at (15,343) {Exportar a HTML};
        \fill[black!35] (20,138) rectangle (202,248);
        \fill[white] (22,135) rectangle (200,245);
        \node[ptitle, font=\fontsize{11.5}{13}\selectfont] at (37,155) {Atención};
        \node[psub, text=black!75] at (37,181) {Es necesario reiniciar};
        \node[psub, text=black!75] at (37,193) {AntennaPod para aplicar los};
        \node[psub, text=black!75] at (37,204) {cambios.};
        \node[buttontext] at (166.5,228) {ACEPTAR};
        \statusbar{dimgray}{10:04} \navbar
    \end{scope}

    % connectors, top of the picture
    \draw[arrowline] (s0) -- (m1.north -| s0);
    \selfedge{m1}{306}{178}{370}
    \selfedge{m1}{294}{356}{383}
    \draw[arrowline] (m1.east |- 0,319) -- (m1.east |- 0,349);
    \draw[arrowline] (m1.west |- 0,448) -- (m2.east |- 0,732);
    \draw[arrowline] (m1.east |- 0,402) .. controls (3660,465) and (3810,570) .. (m4.east |- 0,663);
    \draw[arrowline] (m1.east |- 0,346) .. controls (3750,370) and (3980,450) .. (4100,518) .. controls (4140,545) and (4180,585) .. (dd21.north -| 4210,0);
    \draw[arrowline] (dd21.north -| 4082,0) .. controls (4020,560) and (3960,540) .. (3897,504) .. controls (3780,445) and (3650,425) .. (m1.east |- 0,385);
    \draw[arrowline] (p10.north -| 3948,0) .. controls (4000,4300) and (4013,3800) .. (4013,3400) .. controls (4013,2700) and (4005,1800) .. (4010,1100) .. controls (4013,900) and (4035,760) .. (4006,625) .. controls (3980,540) and (3800,430) .. (m1.east |- 0,366);
    \draw[arrowline] (m4.north -| 3356,0) .. controls (3345,600) and (3335,585) .. (m1.south -| 3324,0);
    \draw[arrowline] (m4.north -| 3554,0) .. controls (3547,595) and (3540,580) .. (m1.south -| 3529,0);
    \draw[arrowline] (m3.east |- 0,1795) .. controls (3060,1750) and (3190,1660) .. (3273,1562) .. controls (3285,1500) and (3290,1400) .. (3295,1250) .. controls (3305,950) and (3320,750) .. (m1.south -| 3324,0);
    \draw[arrowline] (m1.west |- 0,352) .. controls (2500,400) and (1700,470) .. (1393,536) .. controls (1300,556) and (1110,690) .. (1040,880) .. controls (980,1040) and (985,1350) .. (m14.north -| 1009,0);
    \draw[arrowline] (m20.west |- 0,2250) .. controls (1700,2170) and (1600,2140) .. (1500,2115) .. controls (1400,2090) and (1345,2040) .. (1325,1966) .. controls (1300,1870) and (1340,1780) .. (1325,1680) .. controls (1300,1550) and (1225,1400) .. (1232,1250) .. controls (1240,1050) and (1550,720) .. (1929,607) .. controls (2150,480) and (2550,365) .. (m1.west |- 0,341);
    \draw[arrowline] (m16.north -| 646,0) .. controls (615,2350) and (604,2000) .. (604,1600) .. controls (604,1200) and (604,1000) .. (604,821) .. controls (604,680) and (700,625) .. (821,607) .. controls (950,590) and (1080,605) .. (1200,583) .. controls (1700,525) and (2600,420) .. (m1.west |- 0,362);

    % connectors round the queue screens
    \selfedge{m2}{811}{282}{873}
    \selfedge{m2}{799}{484}{885}
    \draw[arrowline] (m2.east |- 0,824) -- (m2.east |- 0,854);
    \draw[arrowline] (m2.east |- 0,951) .. controls (2660,1060) and (2755,1180) .. (2759,1344) .. controls (2762,1480) and (2755,1560) .. (m3.north -| 2750,0);
    \draw[arrowline] (m2.south -| 2482,0) .. controls (2505,1150) and (2535,1260) .. (2533,1374) .. controls (2530,1520) and (2490,1600) .. (2430,1670) .. controls (2375,1730) and (2270,1760) .. (m18.east |- 0,1795);
    \draw[arrowline] (m3.east |- 0,1661) .. controls (2990,1560) and (3062,1420) .. (3062,1317) .. controls (3062,1150) and (2870,980) .. (m2.east |- 0,887);
    \draw[arrowline] (m2.west |- 0,1000) -- (m17.east |- 0,1187);

    \selfedge{m17}{1314}{226}{1377}
    \selfedge{m17}{1303}{408}{1390}
    \draw[arrowline] (m17.east |- 0,1328) -- (m17.east |- 0,1358);
    \draw[arrowline] (m17.east |- 0,1439) -- (m3.west |- 0,1738);
    \draw[arrowline] (m18.north -| 2008,0) .. controls (1990,1570) and (1950,1530) .. (m17.east |- 0,1460);
    \draw[arrowline] (m18.west |- 0,1771) .. controls (1650,1700) and (1580,1640) .. (m17.south -| 1553,0);
    \draw[arrowline] (m17.south -| 1780,0) .. controls (1790,1590) and (1800,1610) .. (m18.north -| 1818,0);
    \draw[arrowline] (m19.north -| 1384,0) -- (m17.south -| 1553,0);
    \draw[arrowline] (m17.west |- 0,1560) .. controls (1430,1585) and (1380,1575) .. (1300,1574) .. controls (1220,1573) and (1145,1575) .. (m14.north -| 1121,0);
    \draw[arrowline] (m14.west |- 0,2048) -- (m15.north -| 812,0);
    \draw[arrowline] (m14.south -| 1095,0) -- (m19.north -| 1123,0);
    \draw[arrowline] (m15.south -| 800,0) -- (m16.north -| 782,0);
    \draw[arrowline] (m3.west |- 0,2004) -- (m20.east |- 0,2200);
    \selfedge{m3}{1803}{204}{1896}
    \smallloop{m3}{1831}{23}{1867}

    % connectors on the right
    \draw[arrowline] (m4.south -| 3634,0) -- (m22.north -| 3650,0);
    \draw[arrowline] (m22.south -| 3716,0) -- (m23.north -| 3716,0);
    \draw[arrowline] (m4.south -| 3504,0) .. controls (3480,1170) and (3465,1290) .. (3468,1399) .. controls (3472,1520) and (3490,1620) .. (3480,1735) .. controls (3472,1860) and (3445,2030) .. (p5.north -| 3422,0);
    \draw[arrowline] (m23.south -| 3543,0) -- (p5.north -| 3493,0);
    \smallloop{p5}{2321}{24}{2388}
    \draw[arrowline] (p5.west |- 0,2407) .. controls (2900,2470) and (2600,2520) .. (2286,2574) .. controls (2130,2600) and (2000,2585) .. (1800,2590) .. controls (1640,2595) and (1500,2630) .. (p6.east |- 0,2696);
    \draw[arrowline] (p5.west |- 0,2424) .. controls (2900,2500) and (2500,2640) .. (p24.east |- 0,2788);

    % connectors round PreferenceActivity-24
    \draw[arrowline] (p6.west |- 0,3058) .. controls (975,3070) and (960,3078) .. (930,3080) .. controls (700,3082) and (400,3084) .. (250,3085) .. controls (200,3088) and (175,3110) .. (p7.north -| 150,0);
    \draw[arrowline] (p25.west |- 0,3235) .. controls (500,3170) and (415,3120) .. (425,3098) .. controls (432,3085) and (600,3083) .. (1000,3083) .. controls (1250,3083) and (1430,3080) .. (p24.west |- 0,3022);
    \draw[arrowline] (p25.north -| 651,0) .. controls (660,3110) and (670,3098) .. (750,3088) .. controls (850,3080) and (1250,3085) .. (1322,3083) .. controls (1420,3082) and (1490,3060) .. (p24.west |- 0,3022);
    \draw[arrowline] (p25.north -| 849,0) .. controls (860,3110) and (870,3090) .. (950,3086) .. controls (1100,3080) and (1270,3100) .. (1322,3090) .. controls (1400,3078) and (1490,3060) .. (p24.west |- 0,3022);
    \draw[arrowline] (p24.west |- 0,2995) .. controls (1490,3055) and (1420,3080) .. (1300,3083) .. controls (1215,3085) and (1180,3090) .. (1150,3115) .. controls (1110,3150) and (1060,3170) .. (p25.east |- 0,3190);
    \draw[arrowline] (p24.west |- 0,2995) .. controls (1490,3045) and (1430,3060) .. (1410,3120) .. controls (1395,3160) and (1420,3220) .. (p26.west |- 0,3245);
    \draw[arrowline] (p26.north -| 1655,0) .. controls (1660,3115) and (1664,3100) .. (p24.south -| 1667,0);
    \draw[arrowline] (p26.north -| 1869,0) -- (p24.south -| 1887,0);
    \draw[arrowline] (p26.east |- 0,3176) .. controls (1920,3150) and (1940,3136) .. (2000,3134) .. controls (2060,3133) and (2120,3140) .. (2150,3110) .. controls (2180,3070) and (2140,2990) .. (p24.east |- 0,2923);
    \draw[arrowline] (p27.north -| 2348,0) .. controls (2335,3060) and (2260,2960) .. (2107,2932) .. controls (2060,2920) and (2020,2910) .. (p24.east |- 0,2899);
    \draw[arrowline] (p27.east |- 0,3343) .. controls (2550,3325) and (2832,3280) .. (2832,3169) .. controls (2832,3110) and (2800,3080) .. (2741,3050) .. controls (2640,2990) and (2300,2940) .. (p24.east |- 0,2880);
    \draw[arrowline] (p24.east |- 0,2885) .. controls (2230,2920) and (2440,2950) .. (2511,3050) .. controls (2560,3100) and (2600,3130) .. (2592,3151) .. controls (2580,3210) and (2500,3260) .. (p27.east |- 0,3306);

    \selfedge{p27}{3337}{206}{3374}
    \selfedge{p27}{3335}{421}{3380}
    \selfedge{p27}{3333}{664}{3386}
    \selfedge{p27}{3331}{807}{3392}
    \selfedge{p27}{3329}{1045}{3398}
    \selfedge{p27}{3327}{1222}{3404}
    \draw[arrowline] (p27.east |- 0,3338) -- (p27.east |- 0,3367);

    % connectors down to the last screens
    \draw[arrowline] (p7.south -| 431,0) .. controls (540,3660) and (1300,3810) .. (p8.west |- 0,3858);
    \draw[arrowline] (p8.east |- 0,3964) -- (p9.west |- 0,4270);
    \draw[arrowline] (p9.south -| 3669,0) .. controls (3680,4610) and (3695,4630) .. (p10.north -| 3705,0);
    \draw[arrowline] (p10.west |- 0,5010) .. controls (3580,5060) and (3550,5100) .. (p11.north -| 3534,0);
    \draw[arrowline] (p10.south -| 3889,0) .. controls (3905,5130) and (3925,5145) .. (p13.west |- 0,5172);
    \draw[arrowline] (p13.north -| 4152,0) .. controls (4130,5090) and (4090,5040) .. (p10.east |- 0,5011);
    \draw[arrowline] (p11.south -| 3589,0) -- (p12.north -| 3610,0);
    \draw[arrowline] (p12.north -| 3757,0) .. controls (3785,5500) and (3785,5300) .. (p10.south -| 3805,0);
    \selfedge{p13}{5331}{251}{5424}
    \smallloop{p13}{5359}{26}{5395}

    % connector labels
    \node[edgelabel] (l1) at (3336,83) {GO\_ACTIVITY:};
    \node[edgelabel] (l2) at (3572,336) {\lc Actualizar};
    \node[edgelabel] (l3) at (3728,336) {\lc Bloquear cola};
    \node[edgelabel] (l4) at (3904,336) {\ec Actualizar};
    \node[edgelabel] (l5) at (2843,588) {\ec Bloquear cola};
    \node[edgelabel] (l6) at (3336,588) {\ec Bloquear cola};
    \node[edgelabel] (l7) at (3543,588) {\ec Más opciones};
    \node[edgelabel] (l8) at (3784,588) {\ec Abrir menú};
    \node[edgelabel] (l9) at (4045,588) {GO\_ACTIVITY:};
    \node[edgelabel] (l10) at (4183,588) {BACK};
    \node[edgelabel] (l11) at (2589,839) {\ec Snackbar\$SnackbarL...};
    \node[edgelabel] (l12) at (2848,839) {\lc Desbloquear cola};
    \node[edgelabel] (l13) at (3050,839) {\lc Actualizar};
    \node[edgelabel] (l14) at (1002,1092) {\ec Más opciones};
    \node[edgelabel] (l15) at (2009,1092) {\ec Actualizar};
    \node[edgelabel] (l16) at (3302,1092) {\lc Actualizar};
    \node[edgelabel] (l17) at (3643,1092) {\ec RelativeLayout[0]};
    \node[edgelabel] (l18) at (1287,1344) {\lc Actualizar};
    \node[edgelabel] (l19) at (1906,1344) {\lc Desbloquear cola};
    \node[edgelabel] (l20) at (2107,1344) {\ec Actualizar};
    \node[edgelabel] (l21) at (2289,1344) {\lc Actualizar};
    \node[edgelabel] (l22) at (2532,1344) {\ec Abrir menú};
    \node[edgelabel] (l23) at (2761,1344) {\ec Desbloquear cola};
    \node[edgelabel] (l24) at (3062,1344) {\ec Bloquear cola};
    \node[edgelabel] (l25) at (602,1595) {\ec ListMenuItemView[0]};
    \node[edgelabel] (l26) at (1155,1595) {\ec Más opciones};
    \node[edgelabel] (l27) at (1562,1595) {\ec RelativeLayout[0]};
    \node[edgelabel] (l28) at (1804,1595) {\ec Abrir menú};
    \node[edgelabel] (l29) at (2000,1595) {\ec Más opciones};
    \node[edgelabel] (l30) at (2240,1595) {\ec Desbloquear cola};
    \node[edgelabel] (l31) at (3475,1596) {\ec Ajustes};
    \node[edgelabel] (l32) at (3717,1596) {\ec Abrir menú};
    \node[edgelabel] (l33) at (1536,1847) {\ec Contraer};
    \node[edgelabel] (l34) at (2963,1847) {\ec Actualizar};
    \node[edgelabel] (l35) at (3143,1847) {\ec Snackbar\$SnackbarL...};
    \node[edgelabel] (l36) at (821,2100) {\ec ListMenuItemView[0]};
    \node[edgelabel] (l37) at (1107,2100) {\ec ListMenuItemView[0]};
    \node[edgelabel] (l38) at (2379,2100) {\ec Abrir menú};
    \node[edgelabel] (l39) at (3519,2100) {\ec Ajustes};
    \node[edgelabel] (l40) at (3559,2352) {\ec LinearLayout[0]};
    \node[edgelabel] (l41) at (791,2604) {\ec ListMenuItemView[0]};
    \node[edgelabel] (l42) at (1691,2604) {\es id/list};
    \node[edgelabel] (l43) at (2546,2604) {\ec LinearLayout[0]};
    \node[edgelabel] (l44) at (4011,2604) {\ec Desplazarse hacia ...};
    \node[edgelabel] (l45) at (175,3108) {\es id/list};
    \node[edgelabel] (l46) at (424,3108) {\ec LinearLayout[0]};
    \node[edgelabel] (l47) at (672,3108) {\ec Cancelar};
    \node[edgelabel] (l48) at (884,3108) {\es Cancelar};
    \node[edgelabel] (l49) at (1186,3108) {\ec LinearLayout[0]};
    \node[edgelabel] (l50) at (1413,3108) {\ec LinearLayout[0]};
    \node[edgelabel] (l51) at (1661,3108) {\ec LinearLayout[0]};
    \node[edgelabel] (l52) at (1885,3108) {\es Cancelar};
    \node[edgelabel] (l53) at (2159,3108) {\ec Cancelar};
    \node[edgelabel] (l54) at (2343,3108) {\ec Cancelar};
    \node[edgelabel] (l55) at (2581,3108) {\ec LinearLayout[0]};
    \node[edgelabel] (l56) at (2814,3108) {\ec Confirmar};
    \node[edgelabel] (l57) at (2416,3360) {\ec Descargas};
    \node[edgelabel] (l58) at (2600,3360) {\ec Subscripciones};
    \node[edgelabel] (l59) at (2815,3360) {\ec Lista de subscripc...};
    \node[edgelabel] (l60) at (3058,3360) {\ec Cola};
    \node[edgelabel] (l61) at (3201,3360) {\ec Historial de repro...};
    \node[edgelabel] (l62) at (3439,3360) {\ec Episodios};
    \node[edgelabel] (l63) at (3616,3360) {\ec Añadir podcast};
    \node[edgelabel] (l64) at (676,3612) {\ec LinearLayout[0]};
    \node[edgelabel] (l65) at (2995,4116) {\es id/list};
    \node[edgelabel] (l66) at (3686,4620) {\ec LinearLayout[0]};
    \node[edgelabel] (l67) at (3548,5124) {\ec LinearLayout[0]};
    \node[edgelabel] (l68) at (3915,5124) {\ec LinearLayout[0]};
    \node[edgelabel] (l69) at (4139,5124) {\ec LinearLayout[0]};
    \node[edgelabel] (l70) at (3797,5375) {\ec Aceptar};
    \node[edgelabel] (l71) at (4427,5375) {\lc Por favor elige la ra...};
    \node[edgelabel] (l72) at (4654,5375) {\ec Por favor elige la...};
    \node[edgelabel] (l73) at (3598,5627) {\ec 20 MiB};
\end{tikzpicture}
\end{document}
